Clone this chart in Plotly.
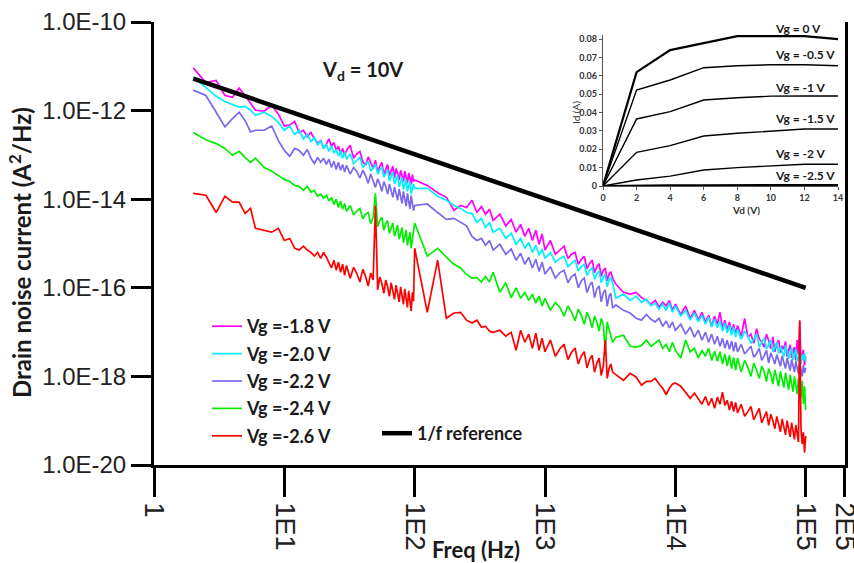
import plotly.graph_objects as go

# ---------------- data ----------------
freq_hz = [
    2, 2.5, 3, 3.5, 4, 4.5, 5, 5.5, 6,
    7, 8, 9, 10, 11, 12, 13, 14, 15, 16, 17, 18, 19, 20, 21, 22, 23, 24, 25, 26, 27, 28, 29, 30,
    32, 34, 36, 38, 40, 42, 44, 46, 48, 50, 52, 54, 56, 58, 60, 62, 64, 66, 68, 70, 72, 74, 76, 78,
    80, 82, 84, 86, 88, 90, 92, 94, 96, 98, 100,
    125, 150, 175, 200, 225, 250, 275, 300, 325, 350, 375, 400,
    450, 500, 550, 600, 650, 700, 750, 800, 850, 900, 950, 1000,
    1100, 1200, 1300, 1400, 1500, 1600, 1700, 1800, 1900, 2000, 2100, 2200, 2300, 2400, 2500, 2600,
    2700, 2800, 2900, 3000, 3100, 3200, 3300,
    3500, 4000, 4500, 5000, 5500, 6000, 6500, 7000, 7500, 8000, 8500, 9000, 9500, 10000,
    11000, 12000, 13000, 14000, 15000, 16000, 17000, 18000, 19000, 20000, 21000, 22000, 23000, 24000,
    25000, 26000, 27000, 28000, 29000, 30000,
    32000, 34000, 36000, 38000, 40000, 42000, 44000, 46000, 48000, 50000, 52000, 54000, 56000, 58000,
    60000, 62000, 64000, 66000, 68000, 70000, 72000, 74000, 76000, 78000, 80000, 82000, 84000, 86000,
    88000, 90000, 92000, 94000, 96000, 98000, 100000,
]

psd_vg_m18 = [
    9.2e-12, 4.3e-12, 4.8e-12, 2.2e-12, 2.0e-12, 3.2e-12, 2.2e-12, 1.5e-12, 1.02e-12,
    9.7e-13, 1.32e-12, 8.3e-13, 4.5e-13, 4.7e-13, 5.7e-13, 3.2e-13, 3.6e-13, 2.6e-13, 3.2e-13, 2.3e-13,
    1.85e-13, 2.1e-13, 1.4e-13, 1.75e-13, 2.3e-13, 1.57e-13, 1.9e-13, 1.26e-13, 1.57e-13, 1.02e-13,
    1.4e-13, 9.8e-14, 1.26e-13,
    1.66e-13, 8.4e-14, 1.05e-13, 1.2e-13, 7.0e-14, 5.8e-14, 9.0e-14, 6.6e-14, 5.0e-14, 7.6e-14,
    4.1e-14, 5.6e-14, 6.8e-14, 3.6e-14, 4.8e-14, 6.1e-14, 3.4e-14, 4.4e-14, 5.5e-14, 3.0e-14,
    4.9e-14, 3.8e-14, 2.7e-14, 4.5e-14, 3.4e-14, 2.5e-14, 4.3e-14, 3.1e-14, 2.3e-14, 3.9e-14,
    2.8e-14, 2.15e-14, 3.6e-14, 2.5e-14, 2.7e-14,
    2.05e-14, 1.4e-14, 1.1e-14, 5.6e-15, 7.2e-15, 6.5e-15, 9.5e-15, 5.0e-15, 6.8e-15, 4.6e-15, 5.9e-15, 3.3e-15,
    4.6e-15, 2.5e-15, 3.5e-15, 1.8e-15, 2.7e-15, 1.45e-15, 2.2e-15, 1.17e-15, 2.0e-15, 9.6e-16, 1.65e-15, 7.1e-16,
    1.17e-15, 5.7e-16, 7.2e-16, 8.7e-16, 4.6e-16, 5.8e-16, 6.3e-16, 3.4e-16, 4.4e-16, 5.1e-16, 2.7e-16,
    3.6e-16, 4.2e-16, 2.2e-16, 3.0e-16, 3.5e-16, 1.8e-16, 2.5e-16, 2.8e-16, 1.45e-16, 2.05e-16,
    2.3e-16, 1.65e-16,
    1.2e-16, 7.9e-17, 7.2e-17, 7.9e-17, 6.0e-17, 5.2e-17, 4.3e-17, 5.2e-17, 3.7e-17, 4.7e-17, 3.9e-17,
    5.2e-17, 3.1e-17, 4.3e-17,
    2.5e-17, 3.9e-17, 2.05e-17, 3.1e-17, 1.86e-17, 2.8e-17, 1.7e-17, 2.4e-17, 1.35e-17, 2.3e-17, 1.5e-17,
    2.8e-17, 1.25e-17, 1.86e-17, 1.1e-17, 1.7e-17, 9.9e-18, 1.5e-17, 9.0e-18, 1.41e-17,
    8.1e-18, 2.05e-17, 7.7e-18, 9.0e-18, 5.6e-18, 1.2e-17, 7.0e-18, 6.0e-18, 4.6e-18, 9.0e-18, 6.5e-18,
    4.2e-18, 7.8e-18, 3.6e-18, 5.5e-18, 6.6e-18, 3.4e-18, 4.9e-18, 4.1e-18, 6.2e-18, 2.8e-18, 3.8e-18,
    5.2e-18, 2.6e-18, 3.5e-18, 4.6e-18, 2.3e-18, 6.6e-18, 3.0e-18, 1.7e-17, 2.1e-18, 3.3e-18, 4.0e-18,
    1.8e-18, 2.8e-18,
]

psd_vg_m20 = [
    5.8e-12, 3.3e-12, 2.1e-12, 1.6e-12, 1.38e-12, 1.2e-12, 1.25e-12, 1.02e-12, 7.8e-13,
    9.2e-13, 7.4e-13, 5.4e-13, 3.6e-13, 4.5e-13, 2.9e-13, 3.6e-13, 2.3e-13, 2.9e-13, 2.0e-13, 2.45e-13,
    1.66e-13, 2.1e-13, 1.4e-13, 1.75e-13, 1.2e-13, 1.57e-13, 1.1e-13, 1.32e-13, 9.3e-14, 1.26e-13,
    8.4e-14, 1.15e-13, 8.0e-14,
    1.05e-13, 6.4e-14, 7.5e-14, 8.8e-14, 5.2e-14, 6.0e-14, 7.2e-14, 4.3e-14, 5.0e-14, 6.2e-14,
    3.7e-14, 4.6e-14, 5.3e-14, 3.1e-14, 3.9e-14, 4.6e-14, 2.6e-14, 3.4e-14, 4.1e-14, 2.2e-14,
    2.9e-14, 3.5e-14, 1.9e-14, 2.6e-14, 3.1e-14, 1.65e-14, 2.3e-14, 2.8e-14, 1.5e-14, 2.05e-14,
    2.5e-14, 1.3e-14, 1.85e-14, 2.2e-14, 1.75e-14,
    1.75e-14, 1.17e-14, 9.5e-15, 7.2e-15, 6.2e-15, 5.0e-15, 4.8e-15, 3.0e-15, 3.7e-15, 2.3e-15, 3.0e-15, 1.8e-15,
    2.2e-15, 1.3e-15, 1.7e-15, 9.6e-16, 1.3e-15, 7.8e-16, 1.05e-15, 6.3e-16, 9.1e-16, 5.4e-16, 7.5e-16, 4.6e-16,
    6.3e-16, 3.8e-16, 4.6e-16, 5.1e-16, 3.0e-16, 3.6e-16, 4.2e-16, 2.4e-16, 3.0e-16, 3.4e-16, 1.9e-16,
    2.5e-16, 2.8e-16, 1.55e-16, 2.1e-16, 2.4e-16, 1.3e-16, 1.75e-16, 2.0e-16, 1.05e-16, 1.5e-16,
    1.7e-16, 1.3e-16,
    5.8e-17, 7.2e-17, 5.2e-17, 6.5e-17, 4.7e-17, 5.5e-17, 3.9e-17, 4.5e-17, 3.3e-17, 4.3e-17, 3.1e-17,
    4.5e-17, 2.8e-17, 3.9e-17,
    2.3e-17, 3.1e-17, 1.86e-17, 2.7e-17, 1.7e-17, 2.4e-17, 1.5e-17, 2.2e-17, 1.3e-17, 1.95e-17, 1.25e-17,
    1.78e-17, 1.05e-17, 1.6e-17, 9.5e-18, 1.41e-17, 8.5e-18, 1.3e-17, 7.7e-18, 1.15e-17,
    6.9e-18, 1.05e-17, 8.0e-18, 5.6e-18, 7.0e-18, 9.0e-18, 4.6e-18, 5.8e-18, 7.4e-18, 4.2e-18, 5.0e-18,
    6.6e-18, 3.6e-18, 4.4e-18, 5.9e-18, 3.3e-18, 4.7e-18, 3.6e-18, 2.8e-18, 5.0e-18, 3.9e-18, 2.5e-18,
    3.2e-18, 4.5e-18, 2.3e-18, 3.0e-18, 4.1e-18, 2.2e-18, 2.7e-18, 3.8e-18, 1.9e-18, 3.1e-18, 2.4e-18,
    3.4e-18, 2.1e-18,
]

psd_vg_m22 = [
    2.9e-12, 2.2e-12, 9.2e-13, 4.3e-13, 6.6e-13, 9.2e-13, 6.0e-13, 3.3e-13, 3.6e-13,
    3.6e-13, 4.5e-13, 2.1e-13, 1.26e-13, 9.3e-14, 1.4e-13, 1.26e-13, 9.8e-14, 1.32e-13, 8.4e-14, 6.4e-14,
    8.8e-14, 6.8e-14, 8.4e-14, 6.1e-14, 8.0e-14, 5.2e-14, 7.2e-14, 4.7e-14, 6.8e-14, 4.5e-14,
    6.1e-14, 4.1e-14, 5.8e-14,
    3.7e-14, 5.2e-14, 4.2e-14, 3.0e-14, 4.5e-14, 3.4e-14, 2.3e-14, 3.7e-14, 2.7e-14, 1.85e-14,
    2.9e-14, 2.2e-14, 1.5e-14, 2.5e-14, 1.9e-14, 1.3e-14, 2.2e-14, 1.6e-14, 1.1e-14, 1.9e-14,
    1.4e-14, 9.5e-15, 1.7e-14, 1.2e-14, 8.0e-15, 1.5e-14, 1.05e-14, 7.0e-15, 1.35e-14, 9.5e-15,
    6.0e-15, 1.2e-14, 8.5e-15, 5.5e-15, 7.2e-15,
    7.8e-15, 5.0e-15, 3.5e-15, 3.7e-15, 3.0e-15, 2.5e-15, 1.45e-15, 1.17e-15, 1.3e-15, 9.1e-16, 1.17e-15, 7.1e-16,
    9.6e-16, 5.7e-16, 7.5e-16, 4.2e-16, 6.0e-16, 3.4e-16, 4.9e-16, 2.8e-16, 4.4e-16, 2.35e-16, 3.8e-16, 2.05e-16,
    3.0e-16, 1.65e-16, 2.2e-16, 2.5e-16, 1.3e-16, 1.8e-16, 2.05e-16, 1.0e-16, 1.45e-16, 1.65e-16, 7.8e-17,
    1.15e-16, 1.35e-16, 6.0e-17, 9.5e-17, 1.1e-16, 4.8e-17, 7.8e-17, 9.0e-17, 3.8e-17, 6.5e-17,
    7.5e-17, 3.5e-17,
    4.1e-17, 3.1e-17, 2.7e-17, 2.05e-17, 1.86e-17, 2.5e-17, 1.95e-17, 1.7e-17, 2.05e-17, 1.35e-17, 1.78e-17,
    1.25e-17, 1.7e-17, 1.1e-17,
    1.5e-17, 9.0e-18, 1.3e-17, 7.7e-18, 1.1e-17, 6.6e-18, 9.9e-18, 5.9e-18, 9.0e-18, 5.3e-18, 8.1e-18,
    4.8e-18, 7.3e-18, 4.3e-18, 6.6e-18, 4.1e-18, 6.3e-18, 3.7e-18, 5.9e-18, 3.6e-18,
    5.3e-18, 3.2e-18, 3.9e-18, 4.8e-18, 2.7e-18, 3.3e-18, 4.3e-18, 2.3e-18, 2.9e-18, 3.9e-18, 2.0e-18,
    3.4e-18, 2.6e-18, 1.9e-18, 3.1e-18, 2.4e-18, 1.7e-18, 2.9e-18, 2.1e-18, 1.5e-18, 2.6e-18, 1.9e-18,
    1.35e-18, 2.4e-18, 1.7e-18, 1.25e-18, 2.2e-18, 1.5e-18, 1.15e-18, 2.0e-18, 1.4e-18, 1.0e-18, 1.8e-18,
    1.2e-18, 1.55e-18,
]

psd_vg_m24 = [
    3.2e-13, 2.2e-13, 1.8e-13, 1.4e-13, 9.8e-14, 1.2e-13, 8.8e-14, 6.8e-14, 8.4e-14,
    5.2e-14, 4.3e-14, 3.5e-14, 2.8e-14, 2.5e-14, 2.05e-14, 1.95e-14, 1.58e-14, 1.95e-14, 1.45e-14, 1.58e-14,
    1.17e-14, 1.3e-14, 1.05e-14, 1.23e-14, 9.1e-15, 1.1e-14, 7.6e-15, 1.0e-14, 6.5e-15, 9.1e-15,
    5.9e-15, 8.0e-15, 5.3e-15,
    7.2e-15, 4.4e-15, 5.4e-15, 6.2e-15, 3.6e-15, 4.6e-15, 5.0e-15, 2.8e-15, 3.9e-15, 1.35e-14,
    2.4e-15, 3.3e-15, 3.9e-15, 2.0e-15, 2.8e-15, 3.3e-15, 1.7e-15, 2.4e-15, 2.9e-15, 1.45e-15,
    2.1e-15, 2.6e-15, 1.25e-15, 1.85e-15, 2.3e-15, 1.05e-15, 1.6e-15, 2.0e-15, 9.0e-16, 1.45e-15,
    1.8e-15, 7.8e-16, 1.3e-15, 1.6e-15, 2.9e-15,
    5.2e-16, 7.8e-16, 4.9e-16, 3.4e-16, 2.8e-16, 2.0e-16, 1.65e-16, 1.7e-16, 1.35e-16, 1.8e-16, 1.35e-16, 2.25e-16,
    7.9e-17, 1.3e-16, 6.0e-17, 1.0e-16, 5.8e-17, 7.9e-17, 5.2e-17, 7.2e-17, 4.5e-17, 6.5e-17, 3.9e-17, 5.8e-17,
    3.1e-17, 4.7e-17, 3.6e-17, 2.3e-17, 3.9e-17, 2.8e-17, 1.8e-17, 3.3e-17, 2.4e-17, 1.5e-17, 2.8e-17,
    2.0e-17, 1.25e-17, 2.3e-17, 1.65e-17, 1.05e-17, 2.05e-17, 1.4e-17, 3.9e-18, 1.7e-17, 1.15e-17,
    7.5e-18, 5.9e-18,
    7.7e-18, 8.5e-18, 4.8e-18, 4.6e-18, 5.0e-18, 6.6e-18, 4.8e-18, 5.6e-18, 6.6e-18, 4.3e-18, 5.3e-18,
    3.6e-18, 5.9e-18, 3.9e-18,
    2.6e-18, 6.6e-18, 3.6e-18, 4.3e-18, 2.6e-18, 3.9e-18, 2.85e-18, 4.3e-18, 2.3e-18, 3.7e-18, 2.2e-18,
    3.6e-18, 1.9e-18, 3.2e-18, 1.7e-18, 3.0e-18, 1.5e-18, 2.7e-18, 1.38e-18, 2.6e-18,
    1.25e-18, 2.3e-18, 1.6e-18, 1.0e-18, 2.0e-18, 1.4e-18, 9.0e-19, 1.7e-18, 1.3e-18, 7.6e-19, 1.5e-18,
    1.1e-18, 6.7e-19, 1.4e-18, 9.5e-19, 6.0e-19, 1.3e-18, 8.6e-19, 5.6e-19, 1.2e-18, 8.0e-19, 5.0e-19,
    1.1e-18, 7.2e-19, 4.5e-19, 1.0e-18, 6.5e-19, 4.0e-19, 9.0e-19, 5.8e-19, 3.3e-19, 8.0e-19, 2.4e-19,
    6.0e-19, 1.74e-19,
]

psd_vg_m26 = [
    1.35e-14, 1.23e-14, 5.0e-15, 1.17e-14, 8.6e-15, 8.6e-15, 4.8e-15, 6.2e-15, 2.2e-15,
    2.0e-15, 1.8e-15, 2.2e-15, 1.17e-15, 1.3e-15, 7.8e-16, 7.1e-16, 8.7e-16, 7.1e-16, 6.3e-16, 5.2e-16,
    6.3e-16, 4.6e-16, 6.3e-16, 4.9e-16, 3.8e-16, 2.8e-16, 4.2e-16, 2.5e-16, 3.8e-16, 2.25e-16,
    3.4e-16, 1.9e-16, 3.2e-16,
    1.65e-16, 2.9e-16, 2.1e-16, 1.35e-16, 2.6e-16, 1.8e-16, 1.1e-16, 2.15e-16, 1.5e-16, 7.2e-15,
    9.0e-17, 1.75e-16, 1.25e-16, 7.5e-17, 1.5e-16, 1.05e-16, 6.4e-17, 1.3e-16, 9.0e-17, 5.5e-17,
    1.15e-16, 8.0e-17, 4.8e-17, 1.05e-16, 7.0e-17, 4.2e-17, 9.5e-17, 6.3e-17, 3.6e-17, 8.5e-17,
    5.6e-17, 3.0e-17, 7.9e-17, 5.0e-17, 7.8e-16,
    2.8e-17, 4.2e-16, 2.05e-17, 2.7e-17, 2.8e-17, 1.86e-17, 1.6e-17, 1.86e-17, 1.3e-17, 1.35e-17, 1.05e-17, 9.9e-18,
    1.1e-17, 8.1e-18, 9.9e-18, 3.9e-18, 1.1e-17, 5.9e-18, 9.0e-18, 4.3e-18, 9.5e-18, 3.9e-18, 7.3e-18, 3.6e-18,
    6.6e-18, 2.85e-18, 4.2e-18, 5.3e-18, 2.4e-18, 3.5e-18, 4.4e-18, 1.9e-18, 2.9e-18, 3.6e-18, 1.55e-18,
    2.4e-18, 3.0e-18, 1.25e-18, 2.0e-18, 2.6e-18, 1.05e-18, 1.7e-18, 6.6e-18, 9.0e-19, 1.5e-18,
    1.9e-18, 1.25e-18,
    1.1e-18, 8.1e-19, 1.17e-18, 9.7e-19, 6.3e-19, 7.7e-19, 7.7e-19, 9.0e-19, 6.7e-19, 5.4e-19, 3.9e-19,
    5.4e-19, 6.7e-19, 7.1e-19,
    6.0e-19, 4.4e-19, 3.2e-19, 4.2e-19, 3.2e-19, 2.35e-19, 3.5e-19, 2.2e-19, 3.2e-19, 1.9e-19, 3.4e-19,
    2.35e-19, 4.4e-19, 2.2e-19, 2.9e-19, 1.74e-19, 2.75e-19, 1.6e-19, 2.6e-19, 1.5e-19,
    2.35e-19, 1.26e-19, 1.6e-19, 2.1e-19, 1.05e-19, 1.4e-19, 1.9e-19, 9.0e-20, 1.2e-19, 1.6e-19, 7.9e-20,
    1.4e-19, 1.0e-19, 6.6e-20, 1.25e-19, 8.5e-20, 5.6e-20, 1.1e-19, 7.5e-20, 4.8e-20, 1.0e-19, 6.8e-20,
    4.3e-20, 9.0e-20, 6.0e-20, 3.8e-20, 8.0e-20, 5.5e-20, 3.3e-20, 1.86e-17, 6.5e-20, 3.0e-20, 5.5e-20,
    1.9e-20, 4.5e-20,
]

ref_freq_hz = [2, 100000]
ref_psd = [5.3e-12, 1.0e-16]

series_names = ["Vg =-1.8 V", "Vg =-2.0 V", "Vg =-2.2 V", "Vg =-2.4 V", "Vg =-2.6 V"]
series_values = [psd_vg_m18, psd_vg_m20, psd_vg_m22, psd_vg_m24, psd_vg_m26]
series_colors = ["#FF00FF", "#00F0FF", "#7B68EE", "#00EE00", "#FF0000"]

x_tick_vals = [1, 10, 100, 1000, 10000, 100000, 200000]
x_tick_text = ["1", "1E1", "1E2", "1E3", "1E4", "1E5", "2E5"]
y_tick_vals = [1e-10, 1e-12, 1e-14, 1e-16, 1e-18, 1e-20]
y_tick_text = ["1.0E-10", "1.0E-12", "1.0E-14", "1.0E-16", "1.0E-18", "1.0E-20"]

# inset: output characteristics Id(Vd)
inset_vd = [0, 2, 4, 6, 8, 10, 12, 14]
inset_id = {
    "Vg = 0 V":    [0, 0.062, 0.074, 0.0777, 0.0816, 0.0816, 0.0816, 0.080],
    "Vg = -0.5 V": [0, 0.0522, 0.0577, 0.0644, 0.0655, 0.066, 0.066, 0.0655],
    "Vg = -1 V":   [0, 0.0365, 0.0405, 0.0468, 0.048, 0.0489, 0.049, 0.049],
    "Vg = -1.5 V": [0, 0.0183, 0.022, 0.0272, 0.0287, 0.030, 0.031, 0.031],
    "Vg = -2 V":   [0, 0.0033, 0.0054, 0.0087, 0.010, 0.011, 0.0118, 0.0118],
    "Vg = -2.5 V": [0, 0.0003, 0.0003, 0.0004, 0.0004, 0.0005, 0.0005, 0.0005],
}
inset_x_ticks = [0, 2, 4, 6, 8, 10, 12, 14]
inset_y_ticks = [0, 0.01, 0.02, 0.03, 0.04, 0.05, 0.06, 0.07, 0.08]
inset_y_text = ["0", "0.01", "0.02", "0.03", "0.04", "0.05", "0.06", "0.07", "0.08"]

for s in series_values:
    assert len(s) == len(freq_hz), len(s)

# ---------------- figure ----------------
fig = go.Figure()

for i, (name, vals, col) in enumerate(zip(series_names, series_values, series_colors)):
    fig.add_trace(go.Scatter(
        x=freq_hz, y=vals, mode="lines", name=name,
        line=dict(color=col, width=1.7),
        legendgroup=f"g{i}", legend="legend",
    ))

fig.add_trace(go.Scatter(
    x=ref_freq_hz, y=ref_psd, mode="lines", name="1/f reference",
    line=dict(color="black", width=4.5), legend="legend2",
))

for name, vals in inset_id.items():
    fig.add_trace(go.Scatter(
        x=inset_vd, y=vals, mode="lines", xaxis="x2", yaxis="y2",
        line=dict(color="black", width=2.2 if name in ("Vg = 0 V", "Vg = -2.5 V") else 1.4),
        showlegend=False, hoverinfo="skip",
    ))

# plot-area geometry (px) used to place free text in paper coordinates
PL, PR, PT, PB = 154, 845, 22, 465
def px(x):
    return (x - PL) / (PR - PL)
def py(y):
    return (PB - y) / (PB - PT)

annotations = [
    dict(text="<b>V<sub>d</sub> = 10V</b>", xref="paper", yref="paper", x=px(362), y=py(70),
         xanchor="center", yanchor="middle", showarrow=False,
         font=dict(family="Lato", size=20, color="#1a1a1a")),
    dict(text="<b>Drain noise current (A<sup>2</sup>/Hz)</b>", xref="paper", yref="paper",
         x=px(20), y=py(253), xanchor="center", yanchor="middle", textangle=-90, showarrow=False,
         font=dict(family="Lato", size=24, color="#1a1a1a")),
    dict(text="<b>Freq (Hz)</b>", xref="paper", yref="paper", x=px(476), y=py(549),
         xanchor="center", yanchor="middle", showarrow=False,
         font=dict(family="Lato", size=22, color="#1a1a1a")),
    dict(text="<b>Vd (V)</b>", xref="paper", yref="paper", x=px(746), y=py(210),
         xanchor="center", yanchor="middle", showarrow=False,
         font=dict(family="Lato", size=10, color="#333")),
    dict(text="Id (A)", xref="paper", yref="paper", x=px(576), y=py(113),
         xanchor="center", yanchor="middle", textangle=-90, showarrow=False,
         font=dict(family="Lato", size=10, color="#333")),
]
inset_label_px_y = [28, 54, 87, 119, 153, 175]
for name, ly in zip(inset_id.keys(), inset_label_px_y):
    annotations.append(dict(text=f"<b>{name}</b>", xref="paper", yref="paper",
                            x=px(773), y=py(ly), xanchor="left", yanchor="middle",
                            showarrow=False,
                            font=dict(family="Lato", size=12, color="#1a1a1a")))

fig.update_layout(
    width=854, height=563,
    margin=dict(l=PL, r=854 - PR, t=PT, b=563 - PB, autoexpand=False),
    paper_bgcolor="white", plot_bgcolor="white",
    font=dict(family="Liberation Sans", color="#1a1a1a"),
    xaxis=dict(
        type="log", range=[0, 5.3016], tickvals=x_tick_vals, ticktext=x_tick_text,
        tickangle=90, ticks="outside", ticklen=29, tickwidth=3, tickcolor="black",
        tickfont=dict(family="Liberation Sans", size=27, color="#222"),
        ticklabeloverflow="allow",
        showline=True, linecolor="black", linewidth=3, showgrid=False, zeroline=False,
        automargin=False,
    ),
    yaxis=dict(
        type="log", range=[-20, -10], tickvals=y_tick_vals, ticktext=y_tick_text,
        ticks="outside", ticklen=20, tickwidth=3, tickcolor="black",
        tickfont=dict(family="Liberation Sans", size=24, color="#222"),
        showline=True, linecolor="black", linewidth=3, mirror=True, showgrid=False, zeroline=False,
        automargin=False,
    ),
    xaxis2=dict(
        domain=[px(603), px(838)], range=[0, 14], anchor="y2", tickvals=inset_x_ticks,
        ticks="outside", ticklen=3, tickcolor="#555", showline=True, linecolor="#555", linewidth=1.3,
        showgrid=False, zeroline=False, automargin=False,
        tickfont=dict(family="Lato", size=9, weight="bold", color="#333"),
    ),
    yaxis2=dict(
        domain=[py(186), py(35)], range=[0, 0.0822], anchor="x2", tickvals=inset_y_ticks,
        ticktext=inset_y_text, ticks="outside", ticklen=3, tickcolor="#555",
        showline=True, linecolor="#555", linewidth=1.3, showgrid=False, zeroline=False,
        automargin=False,
        tickfont=dict(family="Lato", size=9, weight="bold", color="#333"),
    ),
    legend=dict(
        x=px(207), y=py(308), xanchor="left", yanchor="top", bgcolor="rgba(0,0,0,0)",
        font=dict(family="Lato", size=18, weight="bold", color="#1a1a1a"),
        tracegroupgap=1,
    ),
    legend2=dict(
        x=px(377), y=py(415), xanchor="left", yanchor="top", bgcolor="rgba(0,0,0,0)",
        font=dict(family="Lato", size=18, weight="bold", color="#1a1a1a"),
    ),
    annotations=annotations,
    showlegend=True,
)

# page without the browser's default body margin so the figure starts at (0, 0)
fig.write_html(
    "out.html",
    config={"displayModeBar": False},
    post_script="document.body.style.margin='0px';document.body.style.overflow='hidden';",
)
